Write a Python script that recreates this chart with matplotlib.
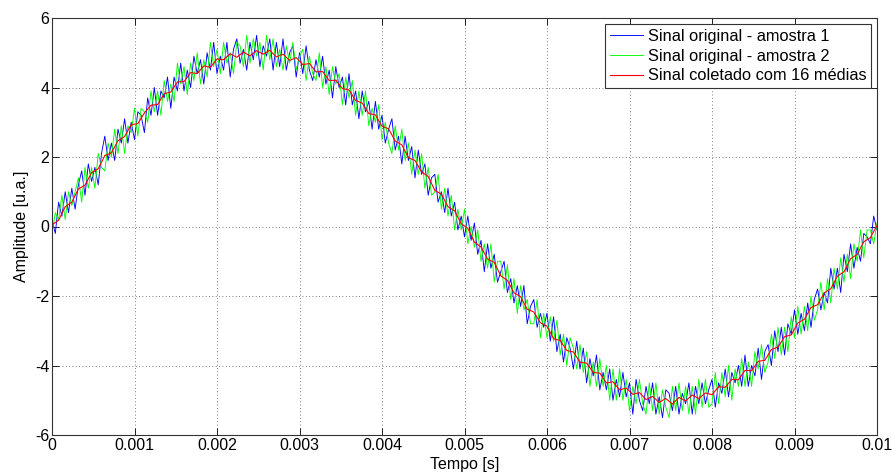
import numpy as np
import matplotlib
matplotlib.use("Agg")
import matplotlib.pyplot as plt

# amostras (250 intervalos em 0..0.01 s)
t_ini, t_fim = 0.0, 0.01

amostra_1 = [
    0.2, -0.2, 0.7, 0.3, 1.0, 0.4, 1.1, 0.5, 1.2, 1.6,
    0.9, 1.8, 1.3, 1.7, 1.2, 2.1, 2.6, 1.9, 2.4, 1.9,
    2.8, 2.4, 3.1, 2.4, 3.0, 2.5, 3.3, 3.2, 2.7, 3.7,
    3.2, 4.0, 3.2, 3.9, 3.7, 4.3, 3.4, 4.3, 3.9, 4.7,
    3.9, 4.5, 4.0, 4.9, 4.4, 4.8, 4.1, 5.0, 4.5, 5.3,
    4.4, 4.9, 4.5, 5.3, 4.3, 5.1, 5.4, 4.7, 5.1, 4.5,
    5.3, 4.8, 5.5, 4.6, 5.2, 4.9, 5.4, 4.5, 5.3, 4.6,
    5.4, 4.5, 5.0, 5.2, 4.3, 5.0, 4.4, 5.2, 4.5, 4.2,
    4.8, 4.3, 4.9, 4.1, 4.5, 3.7, 4.6, 4.0, 4.3, 3.5,
    4.4, 3.5, 3.9, 3.1, 3.9, 3.3, 3.6, 2.8, 3.6, 2.8,
    3.2, 2.4, 2.8, 3.1, 2.2, 2.6, 1.8, 2.6, 1.9, 2.3,
    1.4, 2.2, 1.5, 1.8, 0.9, 1.4, 1.5, 0.7, 1.0, 0.4,
    1.1, 0.3, 0.7, -0.1, 0.3, -0.3, 0.3, -0.4, 0.1, -0.8,
    -0.4, -1.3, -0.5, -1.2, -0.8, -1.6, -1.3, -1.0, -1.9, -1.5,
    -2.2, -1.7, -2.3, -1.7, -2.8, -2.3, -2.1, -2.9, -2.5, -2.9,
    -2.5, -3.3, -2.6, -3.6, -3.1, -3.9, -3.2, -3.5, -4.1, -3.3,
    -4.1, -3.5, -4.5, -3.8, -4.3, -3.7, -4.7, -4.2, -4.7, -4.1,
    -5.0, -4.4, -4.9, -4.2, -4.9, -4.5, -5.4, -4.4, -5.0, -5.3,
    -4.6, -5.1, -4.5, -5.4, -4.9, -5.5, -4.7, -4.8, -5.3, -4.6,
    -5.4, -4.8, -5.1, -4.5, -5.4, -4.6, -5.1, -4.5, -5.1, -4.7,
    -4.4, -5.2, -4.5, -4.8, -4.1, -4.9, -4.2, -4.5, -4.0, -4.6,
    -3.7, -4.6, -4.0, -4.3, -3.5, -4.4, -3.6, -3.4, -4.0, -3.0,
    -3.6, -2.9, -3.7, -2.8, -3.1, -2.4, -3.1, -2.5, -3.0, -2.2,
    -2.9, -2.1, -1.8, -2.4, -1.9, -2.2, -1.2, -1.8, -1.2, -1.9,
    -0.8, -1.3, -0.5, -1.2, -0.6, -1.0, -0.2, -0.3, -0.5, 0.3, -0.1,
]

amostra_2 = [
    -0.2, 0.4, 0.2, 0.9, 0.2, 1.0, 0.6, 1.0, 1.4, 0.7,
    1.7, 1.1, 1.7, 1.1, 2.1, 1.7, 1.6, 2.4, 2.0, 2.8,
    2.1, 2.9, 2.1, 2.9, 2.7, 3.4, 2.6, 3.4, 3.3, 3.0,
    3.9, 3.3, 3.9, 3.2, 4.2, 3.6, 4.1, 3.6, 4.7, 4.1,
    4.6, 3.8, 4.7, 4.2, 5.0, 4.1, 4.8, 4.3, 5.3, 4.6,
    5.1, 4.4, 5.3, 4.7, 5.0, 4.4, 5.3, 5.2, 4.6, 5.5,
    4.7, 5.4, 4.9, 5.3, 4.5, 5.5, 4.8, 5.4, 4.6, 5.1,
    4.5, 5.2, 4.7, 5.3, 4.5, 4.9, 5.1, 4.2, 4.9, 4.4,
    4.2, 5.0, 4.0, 4.6, 3.8, 4.6, 4.1, 4.4, 3.5, 4.3,
    3.7, 4.2, 3.2, 3.9, 3.2, 3.9, 2.9, 3.4, 3.0, 3.5,
    2.5, 3.0, 2.4, 2.1, 2.9, 2.2, 2.8, 1.9, 2.4, 1.5,
    2.2, 1.5, 2.1, 1.1, 1.7, 0.9, 1.0, 1.5, 0.5, 1.1,
    0.3, 0.9, -0.1, 0.5, -0.1, 0.5, -0.5, 0.0, -0.6, -0.1,
    -1.0, -0.5, -1.2, -0.5, -1.6, -1.0, -1.0, -1.8, -1.1, -2.1,
    -1.5, -2.5, -1.7, -2.4, -2.1, -2.8, -2.8, -2.1, -3.2, -2.5,
    -3.2, -2.6, -3.3, -2.7, -3.7, -3.1, -4.0, -3.2, -3.5, -4.1,
    -3.4, -4.2, -3.6, -4.6, -3.9, -4.6, -3.8, -4.6, -4.0, -5.0,
    -4.1, -5.0, -4.1, -5.0, -4.4, -5.3, -4.6, -5.1, -4.4, -5.1,
    -5.4, -4.5, -5.3, -4.5, -5.4, -4.7, -5.2, -5.5, -4.6, -5.3,
    -4.5, -5.3, -4.6, -5.4, -4.6, -5.4, -4.4, -5.2, -4.4, -5.2,
    -5.1, -4.2, -5.1, -4.2, -4.9, -4.0, -5.0, -4.1, -4.6, -3.8,
    -4.6, -3.9, -4.6, -3.6, -4.1, -3.4, -4.2, -3.9, -3.1, -3.8,
    -2.9, -3.7, -2.9, -3.6, -2.6, -3.2, -2.3, -3.1, -2.3, -3.0,
    -2.0, -2.7, -2.4, -1.6, -2.4, -1.5, -2.2, -1.2, -1.8, -0.9,
    -1.6, -0.8, -1.5, -0.5, -1.0, -0.1, -0.9, -0.1, -0.1, -0.5, 0.1,
]

# sinal medio (16 medias), 125 intervalos
media_16 = [
    0.05, 0.18, 0.57, 0.70, 1.08, 1.19, 1.55, 1.66, 2.04, 2.12,
    2.47, 2.59, 2.93, 2.96, 3.27, 3.49, 3.51, 3.82, 3.87, 4.16,
    4.17, 4.43, 4.40, 4.62, 4.58, 4.82, 4.80, 4.97, 4.87, 5.02,
    4.91, 5.06, 4.96, 5.07, 4.88, 4.96, 4.78, 4.86, 4.66, 4.69,
    4.45, 4.46, 4.20, 4.21, 3.97, 3.93, 3.63, 3.55, 3.25, 3.21,
    2.89, 2.81, 2.46, 2.35, 1.98, 1.90, 1.57, 1.44, 1.04, 0.93,
    0.57, 0.45, 0.08, -0.05, -0.45, -0.59, -0.94, -1.03, -1.42, -1.55,
    -1.91, -2.02, -2.38, -2.46, -2.77, -2.87, -3.23, -3.28, -3.57, -3.61,
    -3.91, -3.93, -4.20, -4.22, -4.50, -4.47, -4.70, -4.65, -4.83, -4.78,
    -4.98, -4.89, -5.06, -4.95, -5.11, -4.92, -5.02, -4.85, -4.95, -4.79,
    -4.84, -4.61, -4.63, -4.40, -4.41, -4.14, -4.15, -3.88, -3.85, -3.54,
    -3.47, -3.17, -3.12, -2.78, -2.67, -2.33, -2.25, -1.91, -1.79, -1.43,
    -1.30, -0.93, -0.80, -0.44, -0.32, 0.03,
]

rotulos = ["Sinal original - amostra 1", "Sinal original - amostra 2",
           "Sinal coletado com 16 médias"]
xticks = [0, 0.001, 0.002, 0.003, 0.004, 0.005, 0.006, 0.007, 0.008, 0.009, 0.01]
xtick_labels = ["0", "0.001", "0.002", "0.003", "0.004", "0.005", "0.006",
                "0.007", "0.008", "0.009", "0.01"]
yticks = [-6, -4, -2, 0, 2, 4, 6]

plt.rcParams['font.family'] = ['Liberation Sans', 'DejaVu Sans']
plt.rcParams['font.size'] = 11.5
plt.rcParams['axes.unicode_minus'] = False

t1 = np.linspace(t_ini, t_fim, len(amostra_1))
t2 = np.linspace(t_ini, t_fim, len(amostra_2))
tm = np.linspace(t_ini, t_fim, len(media_16))

fig = plt.figure(figsize=(8.92, 4.76), dpi=100)
ax = fig.add_axes([52 / 892, 41 / 476, 825 / 892, 417 / 476])

ax.plot(t1, amostra_1, color='#0000ff', lw=0.65, label=rotulos[0])
ax.plot(t2, amostra_2, color='#00ff00', lw=0.65, label=rotulos[1])
ax.plot(tm, media_16, color='#ff0000', lw=0.8, label=rotulos[2])

ax.set_xlim(0, 0.01)
ax.set_ylim(-6, 6)
ax.set_xticks(xticks)
ax.set_xticklabels(xtick_labels)
ax.set_yticks(yticks)
ax.tick_params(direction='in', top=True, right=True, length=5, width=0.6,
               labelsize=11.5, pad=2)
ax.grid(True, linestyle=(0, (1, 3)), color='#555555', lw=0.6)
for s in ax.spines.values():
    s.set_linewidth(0.8)
    s.set_color('#333333')

ax.set_xlabel('Tempo [s]', fontsize=11.5, labelpad=3)
ax.set_ylabel('Amplitude [u.a.]', fontsize=11.5, labelpad=4)

leg = ax.legend(loc='upper right', fancybox=False, framealpha=1,
                edgecolor='#333333', fontsize=11.8, handlelength=2.0,
                handletextpad=0.3, borderpad=0.3, labelspacing=0.3,
                borderaxespad=0.35)
leg.get_frame().set_linewidth(0.8)

fig.savefig('out.png', dpi=100)
